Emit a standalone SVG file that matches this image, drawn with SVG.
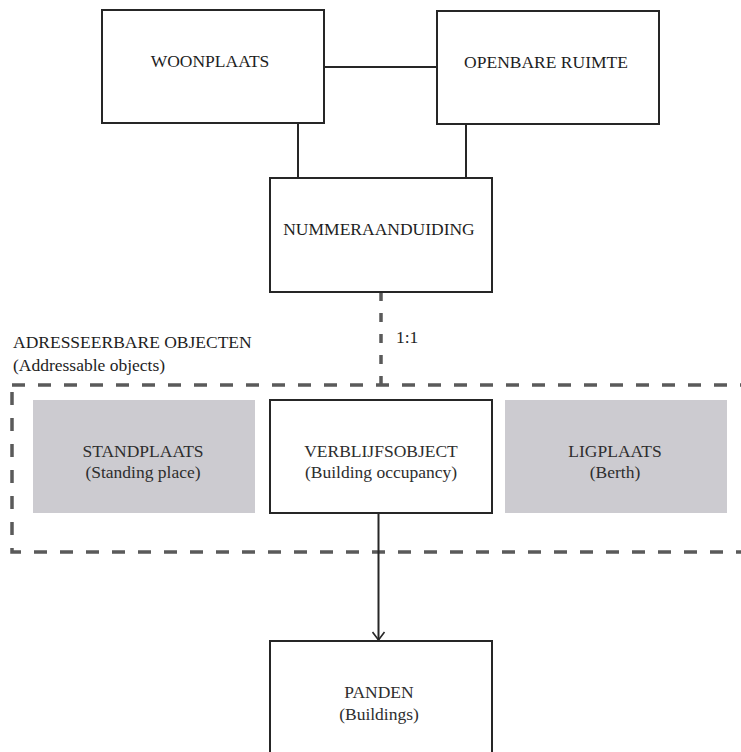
<svg xmlns="http://www.w3.org/2000/svg" width="741" height="752" viewBox="0 0 741 752">
  <style>
    .box { fill: #ffffff; stroke: #262626; stroke-width: 2; }
    .grey { fill: #cccbd0; stroke: none; }
    text { font-family: 'Liberation Serif', 'Times New Roman', 'DejaVu Serif', serif; font-size: 17.5px; }
    .lbl { fill: #1e1e1e; text-anchor: middle; }
    .lblg { fill: #2e2e2e; text-anchor: middle; }
    .plain { fill: #1e1e1e; }
    .line { stroke: #262626; stroke-width: 2; fill: none; }
    .dash { stroke: #5a5a5a; stroke-width: 3.5; fill: none; stroke-dasharray: 13 13; }
  </style>
  <defs>
    <marker id="arrow" viewBox="0 0 10 14" refX="9" refY="7" markerWidth="10" markerHeight="14" markerUnits="userSpaceOnUse" orient="auto">
      <path d="M1 1 L9 7 L1 13" fill="none" stroke="#262626" stroke-width="1.6"/>
    </marker>
  </defs>

  <rect width="741" height="752" fill="#ffffff"/>

  <g id="group-adresseerbare">
    <rect x="12" y="385" width="740" height="167" class="dash"/>
    <text class="plain" x="13" y="348" font-family="Liberation Serif, serif">ADRESSEERBARE OBJECTEN</text>
    <text class="plain" x="13" y="371" font-family="Liberation Serif, serif">(Addressable objects)</text>
  </g>

  <g id="connectors">
    <line class="line" x1="324" y1="67" x2="437" y2="67"/>
    <line class="line" x1="298" y1="123" x2="298" y2="178"/>
    <line class="line" x1="466" y1="124" x2="466" y2="178"/>
    <line x1="381" y1="292" x2="381" y2="385" stroke="#5a5a5a" stroke-width="3.5" stroke-dasharray="9 12"/>
    <text class="plain" x="396" y="343" font-family="Liberation Serif, serif">1:1</text>
    <line class="line" x1="378.5" y1="513" x2="378.5" y2="640" marker-end="url(#arrow)"/>
  </g>

  <g id="woonplaats">
    <rect class="box" x="102" y="10" width="222" height="113"/>
    <text class="lbl" x="210" y="67" font-family="Liberation Serif, serif">WOONPLAATS</text>
  </g>

  <g id="openbare-ruimte">
    <rect class="box" x="437" y="11" width="222" height="113"/>
    <text class="lbl" x="546" y="68" font-family="Liberation Serif, serif">OPENBARE RUIMTE</text>
  </g>

  <g id="nummeraanduiding">
    <rect class="box" x="270" y="178" width="222" height="114"/>
    <text class="lbl" x="379" y="235" font-family="Liberation Serif, serif">NUMMERAANDUIDING</text>
  </g>

  <g id="standplaats">
    <rect class="grey" x="33" y="400" width="222" height="113"/>
    <text class="lblg" x="143" y="457" font-family="Liberation Serif, serif">STANDPLAATS</text>
    <text class="lblg" x="143" y="478" font-family="Liberation Serif, serif">(Standing place)</text>
  </g>

  <g id="verblijfsobject">
    <rect class="box" x="270" y="400" width="222" height="113"/>
    <text class="lblg" x="381" y="457" font-family="Liberation Serif, serif">VERBLIJFSOBJECT</text>
    <text class="lblg" x="381" y="478" font-family="Liberation Serif, serif">(Building occupancy)</text>
  </g>

  <g id="ligplaats">
    <rect class="grey" x="505" y="400" width="222" height="113"/>
    <text class="lblg" x="615" y="457" font-family="Liberation Serif, serif">LIGPLAATS</text>
    <text class="lblg" x="615" y="478" font-family="Liberation Serif, serif">(Berth)</text>
  </g>

  <g id="panden">
    <rect class="box" x="270" y="641" width="222" height="130"/>
    <text class="lblg" x="379" y="698" font-family="Liberation Serif, serif">PANDEN</text>
    <text class="lblg" x="379" y="720" font-family="Liberation Serif, serif">(Buildings)</text>
  </g>
</svg>
